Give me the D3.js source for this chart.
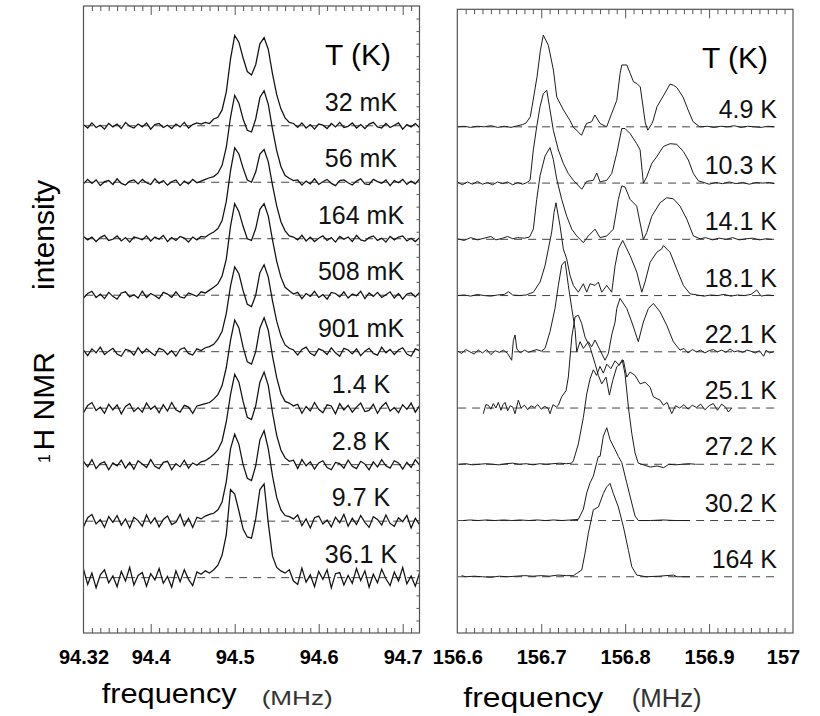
<!DOCTYPE html>
<html>
<head>
<meta charset="utf-8">
<title>1H NMR spectra</title>
<script src="https://cdn.jsdelivr.net/npm/d3@7/dist/d3.min.js"></script>
<style>
  body { margin: 0; background: #fff; }
  svg { font-family: "Liberation Sans", Arial, sans-serif; }
  .tick text { font-size: 20px; font-weight: bold; fill: #000; }
  .frame { fill: none; stroke: #555; stroke-width: 1.2; }
  .trace { fill: none; stroke: #1c1c1c; stroke-width: 1; }
  .trace.left { stroke: #111; stroke-width: 1.25; }
  .base { stroke: #444; stroke-width: 1; stroke-dasharray: 8,6; }
</style>
</head>
<body>
<svg id="chart" width="820" height="716"></svg>
<script>
// ---- data ----
const leftTicks = [94.32, 94.4, 94.5, 94.6, 94.7];
const rightTicks = [156.6, 156.7, 156.8, 156.9, 157];
const leftTemps = ["32 mK", "56 mK", "164 mK", "508 mK", "901 mK", "1.4 K", "2.8 K", "9.7 K", "36.1 K"];
const rightTemps = ["4.9 K", "10.3 K", "14.1 K", "18.1 K", "22.1 K", "25.1 K", "27.2 K", "30.2 K", "164 K"];

// left spectra: intensity (1/100 of trace spacing) every 0.005 MHz from 94.32 MHz
const leftStart = 94.32, leftStep = 0.005;
const s32mK = [2,-4,5,-3,1,-6,4,-2,3,-5,6,-1,-4,3,-2,5,-6,2,4,-3,1,-5,3,-2,6,-4,2,5,
  3,6,4,12,15,28,60,118,160,148,120,96,90,108,145,156,135,92,55,30,14,6,4,
  -3,5,-4,2,-6,3,1,-5,4,-2,6,-3,-1,5,-4,2,-5,3,6,-2,-4,4,-3,1,5,-6,2,-2,4,-3];
const s56mK = [-3,5,-2,4,-6,1,3,-4,6,-2,-5,2,4,-3,5,-1,-4,6,-2,3,-5,1,4,-6,2,-3,5,-1,
  2,5,8,10,16,30,62,115,154,140,112,92,89,112,150,162,138,94,56,28,12,7,3,
  4,-5,2,-3,6,-4,1,5,-2,-6,3,4,-1,-5,2,6,-3,-4,5,1,-2,4,-6,3,-1,5,-4,2,-3,6];
const s164mK = [4,-2,3,-5,2,6,-3,-1,5,-4,2,-6,3,1,-2,5,-4,3,-1,6,-5,2,-3,4,1,-6,3,-2,
  4,3,8,12,18,32,66,120,161,150,125,104,100,118,150,158,136,95,58,30,14,5,3,
  -2,6,-4,3,-5,1,5,-3,2,-6,4,-1,3,-5,6,-2,-4,2,5,-3,1,-6,4,-2,3,5,-4,1,-5,2];
const s508mK = [-5,3,7,-4,2,-6,5,-2,-7,4,6,-3,1,-5,7,-4,3,-1,-6,5,2,-4,6,-3,-5,4,1,-2,
  6,4,9,14,20,34,64,122,162,148,122,100,97,118,152,162,140,98,60,32,14,8,2,
  5,-6,3,-2,7,-4,1,-7,5,3,-3,6,-5,2,-1,7,-6,4,-2,5,-4,1,6,-5,3,-7,2,4,-3,5];
const s901mK = [3,-7,5,-2,8,-5,1,6,-4,-8,4,2,-6,7,-3,5,-1,-7,6,3,-5,2,-8,4,7,-3,-6,5,
  2,7,9,13,22,36,68,116,150,138,108,84,80,100,140,154,132,90,54,28,12,6,3,
  -6,4,8,-3,-7,5,2,-5,7,-2,-8,6,3,-4,5,-7,1,6,-3,-6,8,-2,4,-5,3,7,-4,-8,5,2];
const s1_4K = [-8,5,10,-4,2,-9,7,-3,6,-10,3,8,-6,1,-7,9,-2,4,-8,6,-5,10,-3,-7,5,2,-9,4,
  6,8,10,16,24,40,72,120,156,142,108,82,78,100,142,160,138,92,54,26,12,9,4,
  7,-9,3,-5,10,-2,-8,6,4,-10,8,-3,5,-7,2,9,-6,-4,7,-9,3,10,-5,1,-8,6,-2,9,-7,4];
const s2_8K = [6,-4,9,-7,2,5,-9,3,-2,8,-6,4,-8,7,1,-5,9,-3,-7,4,6,-9,2,-4,8,-6,3,-1,
  5,7,12,18,26,42,76,124,160,146,112,84,80,104,146,164,140,92,52,26,12,6,8,
  -7,9,-2,5,-8,3,7,-5,-9,4,2,-6,8,-3,-7,6,1,-9,5,-4,9,-2,-6,7,3,-8,4,-5,9,-1];
const s9_7K = [-10,6,12,-5,3,-11,8,-2,10,-7,4,-12,7,1,-9,11,-4,6,-10,3,9,-6,-2,12,-8,5,-11,7,
  4,9,12,14,20,34,70,128,154,136,100,76,72,98,144,160,128,80,42,20,10,8,4,
  11,-8,4,-12,6,9,-5,2,-10,7,-3,12,-9,5,-6,10,-2,-11,8,3,-7,11,-4,-9,6,-1,10,-12,5,-6];
const s36_1K = [15,-12,8,-18,5,14,-9,3,-16,11,-6,18,-13,4,9,-15,7,-4,16,-10,2,-17,12,-7,14,-3,-14,10,
  6,12,8,14,22,40,76,156,148,118,86,72,70,104,156,166,96,38,18,12,8,14,-6,
  -12,17,-8,5,-16,11,-3,14,-18,7,9,-13,4,-10,16,-5,12,-17,6,-9,15,-2,-14,10,-6,18,-11,3,-15,8];
const leftSpectra = [s32mK, s56mK, s164mK, s508mK, s901mK, s1_4K, s2_8K, s9_7K, s36_1K];

// right spectra: [frequency MHz, intensity in trace spacings]
const r4_9K = [[156.600,0],[156.608,0.01],[156.616,-0.01],[156.624,0.01],[156.632,0],[156.640,0.02],[156.648,-0.01],[156.656,0.01],[156.664,-0.01],[156.672,0.02],[156.678,0.04],[156.682,0.07],[156.687,0.18],[156.691,0.53],[156.695,0.89],[156.699,1.36],[156.7025,1.63],[156.7085,1.45],[156.7145,1.01],[156.7185,0.53],[156.7265,0.30],[156.734,0.12],[156.738,0],[156.748,-0.15],[156.754,0.06],[156.760,0.09],[156.764,0.21],[156.770,0.06],[156.778,0],[156.784,0.24],[156.790,0.47],[156.794,0.95],[156.796,1.1],[156.802,1.1],[156.806,0.95],[156.810,0.8],[156.814,0.77],[156.818,0.71],[156.824,0.07],[156.827,-0.06],[156.832,0.06],[156.8335,0.12],[156.838,0.36],[156.8455,0.55],[156.8535,0.76],[156.8575,0.74],[156.8615,0.70],[156.869,0.53],[156.875,0.30],[156.881,0.09],[156.889,0],[156.898,0.01],[156.906,-0.01],[156.914,0.01],[156.922,0],[156.930,0.02],[156.938,-0.01],[156.946,0.01],[156.954,0],[156.962,-0.01],[156.970,0.01],[156.978,0]];
const r10_3K = [[156.600,0.02],[156.606,-0.03],[156.612,0.02],[156.618,-0.02],[156.624,0.03],[156.630,-0.02],[156.636,0.01],[156.642,-0.03],[156.648,0.02],[156.654,-0.01],[156.660,0.02],[156.666,-0.03],[156.672,0.01],[156.678,-0.02],[156.683,0.01],[156.6867,0.05],[156.6906,0.59],[156.6946,1.0],[156.6986,1.36],[156.7025,1.59],[156.7066,1.65],[156.7105,1.3],[156.7144,0.94],[156.7204,0.59],[156.7263,0.35],[156.7323,0.17],[156.7383,0.05],[156.7483,-0.11],[156.7542,0.03],[156.7621,0.05],[156.7662,0.18],[156.7701,0.02],[156.7781,0.05],[156.7840,0.17],[156.7900,0.53],[156.7960,0.97],[156.7999,0.97],[156.8059,0.88],[156.8138,0.70],[156.8178,0.59],[156.8217,0.0],[156.8257,0.11],[156.8317,0.35],[156.8377,0.47],[156.8455,0.65],[156.8535,0.70],[156.8615,0.69],[156.8694,0.56],[156.8753,0.41],[156.8813,0.17],[156.8872,0.04],[156.894,0.01],[156.900,-0.02],[156.908,0.01],[156.916,-0.01],[156.924,0.02],[156.932,-0.01],[156.940,0.01],[156.948,-0.02],[156.956,0.01],[156.964,0],[156.972,0.01],[156.978,-0.01]];
const r14_1K = [[156.600,0.01],[156.608,-0.02],[156.616,0.03],[156.624,-0.01],[156.632,0.02],[156.640,0.05],[156.646,-0.01],[156.654,0.02],[156.660,0.05],[156.666,0.01],[156.672,0.03],[156.680,0.02],[156.686,0.04],[156.6906,0.18],[156.6946,0.71],[156.6986,1.13],[156.7045,1.48],[156.7105,1.63],[156.7144,1.42],[156.7185,1.07],[156.7244,0.71],[156.7304,0.41],[156.7364,0.18],[156.7423,0.06],[156.7502,-0.06],[156.7561,0.06],[156.7641,0.18],[156.7701,0.03],[156.7781,0.06],[156.7859,0.18],[156.7919,0.71],[156.7960,0.95],[156.7999,0.93],[156.8059,0.71],[156.8138,0.59],[156.8217,0.0],[156.8257,0.12],[156.8317,0.41],[156.8416,0.65],[156.8496,0.74],[156.8574,0.72],[156.8654,0.59],[156.8734,0.36],[156.8813,0.06],[156.8893,0.01],[156.896,0.03],[156.904,-0.01],[156.912,0.02],[156.920,0],[156.928,0.03],[156.936,-0.01],[156.944,0.01],[156.952,0.02],[156.960,-0.01],[156.968,0.01],[156.975,0]];
const r18_1K = [[156.600,0],[156.608,0.01],[156.616,-0.01],[156.624,0.02],[156.632,0],[156.640,-0.01],[156.648,0.01],[156.656,0.02],[156.661,0.07],[156.666,0.01],[156.674,0],[156.682,0.01],[156.6906,0.06],[156.6986,0.24],[156.7045,0.53],[156.7085,0.83],[156.7125,1.13],[156.7153,1.48],[156.7176,1.65],[156.7224,1.24],[156.7263,0.83],[156.7304,0.65],[156.7343,0.36],[156.7383,0.18],[156.7442,0.06],[156.7502,0.21],[156.7542,0.06],[156.7582,0.21],[156.7641,0.18],[156.7681,0.24],[156.7721,0.06],[156.7781,0.18],[156.7840,0.06],[156.7880,0.53],[156.7919,0.83],[156.7971,0.98],[156.8059,0.71],[156.8138,0.42],[156.8198,0.06],[156.8237,0.24],[156.8297,0.59],[156.8377,0.77],[156.8436,0.83],[156.8455,0.89],[156.8535,0.77],[156.8615,0.47],[156.8694,0.18],[156.8774,0.03],[156.886,0.01],[156.894,-0.01],[156.902,0.01],[156.910,0],[156.918,0.02],[156.926,-0.01],[156.934,0.01],[156.942,0],[156.950,0.02],[156.9568,0.1],[156.962,-0.01],[156.970,0.01],[156.977,0]];
const r22_1K = [[156.600,0.02],[156.605,-0.03],[156.610,0.04],[156.615,0],[156.620,-0.04],[156.625,0.03],[156.630,-0.02],[156.635,0.04],[156.640,-0.05],[156.645,0.02],[156.650,-0.01],[156.655,0.03],[156.660,-0.03],[156.6648,-0.15],[156.6668,0.2],[156.6688,0.3],[156.6710,0.05],[156.675,-0.02],[156.680,0.03],[156.685,-0.01],[156.690,0.02],[156.695,0.04],[156.700,0.01],[156.7045,0.06],[156.7105,0.36],[156.7164,0.77],[156.7204,1.18],[156.7244,1.54],[156.7284,1.61],[156.7323,1.18],[156.7364,0.77],[156.7403,0.4],[156.7423,0.0],[156.7463,0.18],[156.7502,0.06],[156.7561,0.18],[156.7601,0.09],[156.7641,0.21],[156.7701,0.03],[156.7760,-0.15],[156.7800,-0.03],[156.7840,0.3],[156.7880,0.53],[156.7900,0.77],[156.7939,0.95],[156.8019,0.77],[156.8079,0.53],[156.8157,0.18],[156.8217,0.53],[156.8277,0.77],[156.8336,0.86],[156.8416,0.71],[156.8496,0.47],[156.8574,0.18],[156.8654,0.03],[156.870,0.06],[156.875,-0.02],[156.880,0.04],[156.885,0],[156.890,0.03],[156.895,-0.02],[156.900,0.02],[156.905,0.04],[156.910,0],[156.915,0.03],[156.920,-0.01],[156.925,0.05],[156.930,0],[156.935,0.02],[156.940,-0.01],[156.945,0.03],[156.950,0.01],[156.955,-0.02],[156.960,0.02],[156.965,-0.08],[156.968,0.03],[156.972,-0.02],[156.977,0]];
const r25_1K = [[156.6310,-0.1],[156.6340,0.06],[156.6369,0.05],[156.6400,-0.02],[156.6430,0.08],[156.6460,0.0],[156.6489,0.1],[156.6520,-0.04],[156.6545,0.06],[156.6569,0.1],[156.6600,-0.05],[156.6630,0.04],[156.6660,0.02],[156.6688,-0.1],[156.6727,0.14],[156.6760,0.0],[156.6800,0.05],[156.6840,-0.03],[156.6880,0.04],[156.6920,0.01],[156.6960,0.06],[156.7000,-0.02],[156.7040,0.03],[156.7080,0.0],[156.7105,-0.1],[156.7140,0.06],[156.7180,0.02],[156.7204,0.05],[156.7244,0.2],[156.7296,0.31],[156.7323,0.55],[156.7364,1.26],[156.7403,1.62],[156.7442,1.65],[156.7483,1.5],[156.7522,1.26],[156.7582,1.08],[156.7641,0.79],[156.7681,0.58],[156.7721,0.43],[156.7772,0.55],[156.7812,0.23],[156.7852,0.49],[156.7900,0.73],[156.7939,0.79],[156.7979,0.85],[156.8019,0.55],[156.8059,0.64],[156.8118,0.58],[156.8178,0.43],[156.8237,0.46],[156.8297,0.37],[156.8336,0.2],[156.8416,0.14],[156.8455,0.05],[156.8500,0.1],[156.8555,-0.1],[156.8600,0.04],[156.8650,0.0],[156.8700,0.06],[156.8750,-0.02],[156.8800,0.05],[156.8850,0.01],[156.8900,0.07],[156.8950,-0.03],[156.9000,0.04],[156.9051,0.08],[156.9100,-0.04],[156.9150,0.07],[156.9200,0.01],[156.9230,-0.07],[156.9270,0]];
const r27_2K = [[156.602,0],[156.610,0.01],[156.618,-0.01],[156.626,0],[156.634,0.01],[156.642,0],[156.650,-0.01],[156.658,0.01],[156.666,0.02],[156.674,0],[156.682,0.01],[156.690,-0.01],[156.698,0.01],[156.706,0],[156.714,0.01],[156.722,0.02],[156.730,0.01],[156.736,0.02],[156.7383,0.06],[156.7442,0.36],[156.7502,0.83],[156.7542,1.25],[156.7582,1.52],[156.7621,1.68],[156.7660,1.58],[156.7700,1.74],[156.7740,1.62],[156.7781,1.78],[156.7830,1.7],[156.7880,1.84],[156.7930,1.76],[156.7965,1.86],[156.7999,1.6],[156.8040,1.0],[156.8079,0.55],[156.8118,0.2],[156.8157,0.02],[156.8237,-0.02],[156.830,-0.05],[156.838,-0.03],[156.846,-0.06],[156.852,0],[156.860,-0.01],[156.868,0],[156.876,0.01],[156.884,0]];
const r30_2K = [[156.607,0],[156.615,0.01],[156.625,0],[156.635,0.01],[156.645,0],[156.655,0.01],[156.665,0],[156.675,0.01],[156.685,0],[156.695,0.01],[156.705,0],[156.715,0.01],[156.725,0],[156.735,0.01],[156.7442,0.02],[156.7502,0.2],[156.7542,0.49],[156.7582,0.67],[156.7621,0.79],[156.7662,1.03],[156.7681,1.14],[156.7701,1.14],[156.7740,1.5],[156.7781,1.65],[156.7820,1.44],[156.7880,1.26],[156.7919,1.14],[156.7960,1.03],[156.8019,0.67],[156.8079,0.31],[156.8118,0.08],[156.8157,0],[156.830,0],[156.845,0.01],[156.860,0],[156.877,0]];
const r164K = [[156.6052,0.02],[156.610,0],[156.620,0.01],[156.630,0],[156.640,-0.01],[156.650,0.01],[156.660,0],[156.670,0.01],[156.680,0.02],[156.690,0.01],[156.700,0.02],[156.710,0.01],[156.720,0.03],[156.730,0.02],[156.7383,0.02],[156.7423,0.06],[156.7483,0.12],[156.7522,0.42],[156.7561,0.77],[156.7621,1.19],[156.7681,1.24],[156.7740,1.48],[156.7781,1.6],[156.7820,1.66],[156.7859,1.48],[156.7919,1.24],[156.7979,0.89],[156.8039,0.47],[156.8079,0.18],[156.8138,0.03],[156.825,0],[156.840,0.01],[156.8575,0.03],[156.862,0],[156.877,0]];
const rightSpectra = [r4_9K, r10_3K, r14_1K, r18_1K, r22_1K, r25_1K, r27_2K, r30_2K, r164K];

// ---- layout ----
const svg = d3.select("#chart");
const L = {x0: 83.5, x1: 419.5, y0: 6, y1: 633};
const R = {x0: 457.3, x1: 793, y0: 9.3, y1: 633};

const xL = d3.scaleLinear().domain([94.32, 94.72]).range([L.x0, L.x1]);
const yL = d3.scaleLinear().domain([-0.98, 10.12]).range([L.y1, L.y0]);
const xR = d3.scaleLinear().domain([156.6, 157]).range([R.x0, R.x1]);
const yR = d3.scaleLinear().domain([-1.0, 10.09]).range([R.y1, R.y0]);

function ticksFor(x, box, majors, yTop) {
  const all = x.ticks(40).filter(v => v > x.domain()[0] + 1e-6 && v < x.domain()[1] - 1e-6);
  const isMajor = v => majors.some(m => Math.abs(m - v) < 1e-6);
  const minor = all.filter(v => !isMajor(v));
  const major = majors.filter(v => v > x.domain()[0] + 1e-6 && v < x.domain()[1] - 1e-6);
  [[minor, 5], [major, 9]].forEach(([vals, len]) => {
    svg.append("g").attr("transform", `translate(0,${box.y1})`)
      .call(d3.axisBottom(x).tickValues(vals).tickSize(-len).tickFormat(""))
      .call(g => g.select(".domain").remove())
      .selectAll("line").attr("stroke", "#555");
    svg.append("g").attr("transform", `translate(0,${yTop})`)
      .call(d3.axisTop(x).tickValues(vals).tickSize(-len).tickFormat(""))
      .call(g => g.select(".domain").remove())
      .selectAll("line").attr("stroke", "#555");
  });
}

ticksFor(xL, L, leftTicks, L.y0);
ticksFor(xR, R, rightTicks, R.y0);

// tick labels
svg.append("g").attr("transform", `translate(0,${L.y1})`)
  .call(d3.axisBottom(xL).tickValues(leftTicks).tickSize(0).tickPadding(17).tickFormat(d => String(+d.toFixed(2))))
  .call(g => g.select(".domain").remove());
svg.append("g").attr("transform", `translate(0,${R.y1})`)
  .call(d3.axisBottom(xR).tickValues(rightTicks).tickSize(0).tickPadding(17).tickFormat(d => String(+d.toFixed(2))))
  .call(g => g.select(".domain").remove())
  .selectAll(".tick:last-of-type text").attr("dx", -10);

// small ticks on right edge of the left panel
const yT = d3.scaleLinear().domain([0, 50]).range([L.y1, L.y0]);
svg.append("g").attr("transform", `translate(${L.x1},0)`)
  .call(d3.axisRight(yT).tickValues(d3.range(1, 50)).tickSize(-3).tickFormat(""))
  .call(g => g.select(".domain").remove())
  .selectAll("line").attr("stroke", "#555");

// dashed baselines
leftSpectra.forEach((s, i) => {
  svg.append("line").attr("class", "base")
    .attr("x1", xL(94.322)).attr("x2", xL(94.715))
    .attr("y1", yL(8 - i)).attr("y2", yL(8 - i));
});
rightSpectra.forEach((s, i) => {
  svg.append("line").attr("class", "base")
    .attr("x1", xR(156.601)).attr("x2", xR(156.98))
    .attr("y1", yR(8 - i)).attr("y2", yR(8 - i));
});

// traces
leftSpectra.forEach((s, i) => {
  const line = d3.line()
    .x((v, k) => xL(leftStart + k * leftStep))
    .y(v => yL(v / 100 + 8 - i));
  svg.append("path").attr("class", "trace left").attr("d", line(s));
});
rightSpectra.forEach((s, i) => {
  const line = d3.line()
    .x(d => xR(d[0]))
    .y(d => yR(d[1] + 8 - i));
  svg.append("path").attr("class", "trace").attr("d", line(s));
});

// frames
svg.append("rect").attr("class", "frame")
  .attr("x", L.x0).attr("y", L.y0).attr("width", L.x1 - L.x0).attr("height", L.y1 - L.y0);
svg.append("rect").attr("class", "frame")
  .attr("x", R.x0).attr("y", R.y0).attr("width", R.x1 - R.x0).attr("height", R.y1 - R.y0);

// temperature labels
leftTemps.forEach((t, i) => {
  svg.append("text").attr("x", 361).attr("y", yL(8 - i) - 15)
    .attr("text-anchor", "middle").attr("font-size", 25).attr("fill", "#111").text(t);
});
rightTemps.forEach((t, i) => {
  svg.append("text").attr("x", 777).attr("y", yR(8 - i) - 9)
    .attr("text-anchor", "end").attr("font-size", 25).attr("fill", "#111").text(t);
});
svg.append("text").attr("x", 358).attr("y", 65).attr("text-anchor", "middle")
  .attr("font-size", 30).text("T (K)");
svg.append("text").attr("x", 735).attr("y", 68).attr("text-anchor", "middle")
  .attr("font-size", 30).text("T (K)");

// axis titles
svg.append("text").attr("x", 101.7).attr("y", 703).attr("font-size", 28)
  .attr("textLength", 135).attr("lengthAdjust", "spacingAndGlyphs").text("frequency");
svg.append("text").attr("x", 261.7).attr("y", 705).attr("font-size", 20).attr("fill", "#333")
  .attr("textLength", 71).attr("lengthAdjust", "spacingAndGlyphs").text("(MHz)");
svg.append("text").attr("x", 463.3).attr("y", 706.5).attr("font-size", 27)
  .attr("textLength", 140).attr("lengthAdjust", "spacingAndGlyphs").text("frequency");
svg.append("text").attr("x", 631.7).attr("y", 707).attr("font-size", 25).attr("fill", "#333")
  .attr("textLength", 70).attr("lengthAdjust", "spacingAndGlyphs").text("(MHz)");

svg.append("text").attr("transform", "translate(50,463) rotate(-90)")
  .attr("font-size", 16).text("1");
svg.append("text").attr("transform", "translate(53.5,450.5) rotate(-90)")
  .attr("font-size", 30).text("H NMR");
svg.append("text").attr("transform", "translate(53.5,290) rotate(-90)")
  .attr("font-size", 30).text("intensity");
</script>
</body>
</html>
